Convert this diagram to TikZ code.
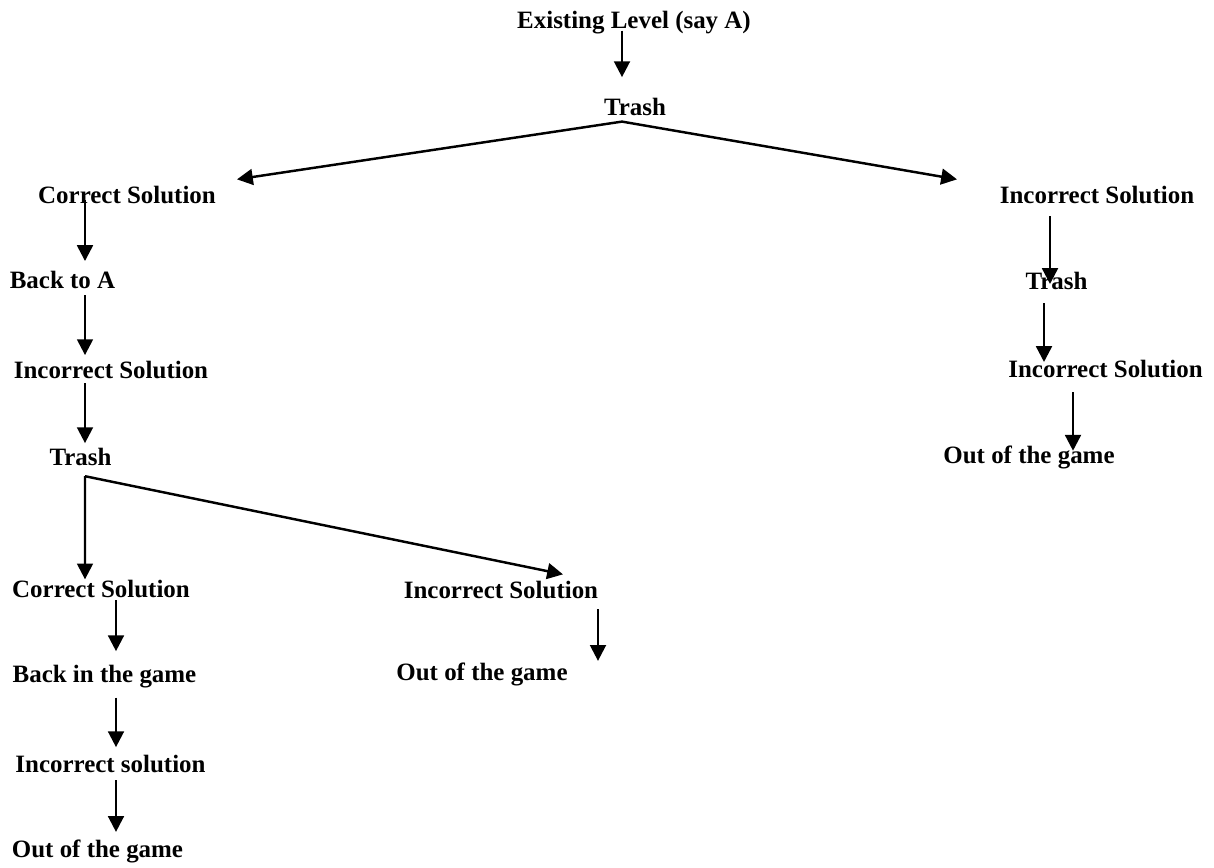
\documentclass[tikz,border=0pt]{standalone}
\usepackage{fontspec}
\setmainfont{Liberation Serif}
\usetikzlibrary{arrows.meta}

\tikzset{
    lbl/.style={font=\fontsize{14.2}{16}\selectfont\bfseries, inner sep=0pt, anchor=base},
    arr/.style={-{Triangle[length=9pt,width=9pt]}, line width=1.4pt},
}

\begin{document}
\begin{tikzpicture}[x=0.02cm, y=-0.02cm]
    \useasboundingbox (0,0) rectangle (1214,867);

    \node[lbl] (exist) at (634,28) {Existing Level (say A)};
    \node[lbl] (trash0) at (635,115) {Trash};
    \node[lbl] (corr1) at (127,203) {Correct Solution};
    \node[lbl] (incR1) at (1097,203) {Incorrect Solution};
    \node[lbl] (backA) at (62.5,288) {Back to A};
    \node[lbl] (inc2) at (111,378) {Incorrect Solution};
    \node[lbl] (trash1) at (80.5,465) {Trash};
    \node[lbl] (trashR) at (1056.5,289) {Trash};
    \node[lbl] (incR2) at (1105.5,377) {Incorrect Solution};
    \node[lbl] (outR) at (1029,463) {Out of the game};
    \node[lbl] (corr2) at (101,597) {Correct Solution};
    \node[lbl] (inc3) at (501,598) {Incorrect Solution};
    \node[lbl] (backG) at (104.5,682) {Back in the game};
    \node[lbl] (outM) at (482,680) {Out of the game};
    \node[lbl] (incs) at (110.5,772) {Incorrect solution};
    \node[lbl] (outL) at (97.5,857) {Out of the game};

    \coordinate (colTop) at (622,0);
    \coordinate (colL) at (85,0);
    \coordinate (colL2) at (116,0);
    \coordinate (colM) at (598,0);
    \coordinate (colR1) at (1050,0);
    \coordinate (colR2) at (1044,0);
    \coordinate (colR3) at (1073,0);
    \coordinate (fork0) at ([shift={(-13,6)}]trash0.south);
    \coordinate (fork1) at ([shift={(4.5,10.6)}]trash1.south);

    \draw[arr, shorten <=-1.8pt, shorten >=11.5pt] (exist.south -| colTop) -- (trash0.north -| colTop);
    \draw[arr] (fork0) -- ([shift={(110,-6)}]corr1.north);
    \draw[arr] (fork0) -- ([shift={(-140,-6)}]incR1.north);

    \draw[arr, shorten <=-1.9pt, shorten >=5.3pt] (corr1.south -| colL) -- (backA.north -| colL);
    \draw[arr, shorten <=3.8pt, shorten >=3pt] (backA.south -| colL) -- (inc2.north -| colL);
    \draw[arr, shorten <=2.6pt, shorten >=2.4pt] (inc2.south -| colL) -- (trash1.north -| colL);
    \draw[arr] (fork1) -- (corr2.north -| colL);
    \draw[arr] (fork1) -- ([shift={(62,-6)}]inc3.north);

    \draw[arr, shorten <=1.5pt, shorten >=7.5pt] (corr2.south -| colL2) -- (backG.north -| colL2);
    \draw[arr, shorten <=5.6pt, shorten >=4.1pt] (backG.south -| colL2) -- (incs.north -| colL2);
    \draw[arr, shorten <=4.3pt, shorten >=4.1pt] (incs.south -| colL2) -- (outL.north -| colL2);
    \draw[arr, shorten <=6pt, shorten >=0.7pt] (inc3.south -| colM) -- (outM.north -| colM);

    \draw[arr, shorten <=7.2pt, shorten >=-7.2pt] (incR1.south -| colR1) -- (trashR.north -| colR1);
    \draw[arr, shorten <=7.7pt, shorten >=-1.5pt] (trashR.south -| colR2) -- (incR2.north -| colR2);
    \draw[arr, shorten <=8.3pt, shorten >=-3.2pt] (incR2.south -| colR3) -- (outR.north -| colR3);
\end{tikzpicture}
\end{document}
